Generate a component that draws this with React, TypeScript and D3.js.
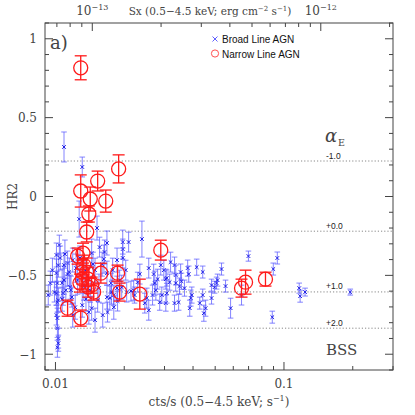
import * as d3 from 'd3';

const W = 415,
  H = 415;
const MARGIN = { top: 23, right: 22, bottom: 45, left: 45 };

// [cts/s, HR2, error]
const narrowLineAgn: [number, number, number][] = [
  [0.0129, 0.816, 0.076], [0.0189, 0.175, 0.089], [0.0153, 0.098, 0.063],
  [0.0129, 0.035, 0.102], [0.0142, -0.016, 0.076], [0.0166, -0.029, 0.07],
  [0.014, -0.111, 0.051], [0.0137, -0.225, 0.063], [0.0132, -0.359, 0.063],
  [0.0125, -0.378, 0.051], [0.0131, -0.479, 0.076], [0.0137, -0.479, 0.089],
  [0.0131, -0.524, 0.063], [0.0139, -0.524, 0.076], [0.0128, -0.549, 0.057],
  [0.0139, -0.575, 0.063], [0.0144, -0.562, 0.051], [0.0158, -0.486, 0.063],
  [0.0187, -0.486, 0.051], [0.0191, -0.606, 0.057], [0.0234, -0.619, 0.095],
  [0.0113, -0.708, 0.051], [0.0129, -0.771, 0.051], [0.0289, -0.34, 0.063],
  [0.0652, -0.581, 0.057], [0.0679, -0.543, 0.076], [0.083, -0.524, 0.044],
  [0.0133, -0.435, 0.063], [0.0147, -0.606, 0.051],
];

const broadLineAgn: [number, number, number][] = [
  [0.0109, 0.314, 0.095], [0.0131, 0.187, 0.063], [0.0127, -0.143, 0.114],
  [0.0152, -0.2, 0.076], [0.0104, -0.308, 0.063], [0.0101, -0.371, 0.076],
  [0.0101, -0.486, 0.089], [0.0102, -0.549, 0.076], [0.0101, -0.613, 0.076],
  [0.0102, -0.67, 0.063], [0.0101, -0.752, 0.063], [0.0102, -0.835, 0.076],
  [0.0103, -0.898, 0.063], [0.0102, -0.956, 0.063], [0.0103, -0.93, 0.051],
  [0.0103, -0.435, 0.076], [0.0107, -0.549, 0.089], [0.0108, -0.613, 0.076],
  [0.0099, -0.606, 0.063], [0.0103, -0.657, 0.076], [0.0102, -0.771, 0.063],
  [0.0095, -0.549, 0.076], [0.0097, -0.467, 0.076], [0.0093, -0.625, 0.063],
  [0.0107, -0.651, 0.076], [0.0109, -0.53, 0.089], [0.0109, -0.435, 0.076],
  [0.011, -0.365, 0.089], [0.0113, -0.422, 0.076], [0.0113, -0.492, 0.076],
  [0.0115, -0.479, 0.089], [0.0116, -0.575, 0.076], [0.0117, -0.594, 0.089],
  [0.0118, -0.638, 0.063], [0.0119, -0.403, 0.076], [0.0119, -0.752, 0.076],
  [0.0122, -0.702, 0.076], [0.0123, -0.454, 0.089], [0.0128, -0.39, 0.076],
  [0.0133, -0.568, 0.089], [0.0136, -0.651, 0.076], [0.014, -0.733, 0.076],
  [0.0144, -0.708, 0.076], [0.0144, -0.359, 0.089], [0.0146, -0.429, 0.076],
  [0.0149, -0.467, 0.076], [0.0149, -0.784, 0.076], [0.0155, -0.581, 0.089],
  [0.016, -0.429, 0.076], [0.0163, -0.397, 0.089], [0.0164, -0.352, 0.076],
  [0.0168, -0.486, 0.076], [0.0168, -0.638, 0.076], [0.0161, -0.752, 0.076],
  [0.0169, -0.733, 0.063], [0.0173, -0.644, 0.076], [0.0175, -0.549, 0.063],
  [0.0176, -0.606, 0.076], [0.018, -0.625, 0.063], [0.018, -0.702, 0.076],
  [0.0186, -0.581, 0.076], [0.0186, -0.403, 0.076], [0.0187, -0.663, 0.063],
  [0.0195, -0.575, 0.076], [0.0197, -0.289, 0.076], [0.0197, -0.333, 0.063],
  [0.0197, -0.39, 0.063], [0.0203, -0.467, 0.063], [0.0205, -0.606, 0.063],
  [0.0209, -0.289, 0.063], [0.0214, -0.6, 0.063], [0.022, -0.594, 0.063],
  [0.0222, -0.625, 0.051], [0.0234, -0.492, 0.063], [0.0239, -0.27, 0.114],
  [0.0246, -0.676, 0.063], [0.0251, -0.644, 0.063], [0.0256, -0.454, 0.063],
  [0.0256, -0.721, 0.063], [0.0266, -0.625, 0.063], [0.0269, -0.492, 0.063],
  [0.0272, -0.549, 0.076], [0.0275, -0.594, 0.063], [0.028, -0.524, 0.063],
  [0.0289, -0.435, 0.063], [0.0292, -0.625, 0.051], [0.0298, -0.467, 0.063],
  [0.0304, -0.524, 0.063], [0.0304, -0.676, 0.051], [0.0307, -0.517, 0.051],
  [0.0307, -0.613, 0.063], [0.0316, -0.543, 0.051], [0.0319, -0.416, 0.063],
  [0.0332, -0.435, 0.051], [0.0332, -0.676, 0.051], [0.0336, -0.498, 0.063],
  [0.0336, -0.549, 0.051], [0.0346, -0.67, 0.051], [0.0349, -0.568, 0.051],
  [0.0353, -0.479, 0.051], [0.0356, -0.537, 0.051], [0.0367, -0.581, 0.051],
  [0.0379, -0.454, 0.051], [0.0383, -0.492, 0.051], [0.0387, -0.708, 0.051],
  [0.0391, -0.644, 0.051], [0.0395, -0.625, 0.051], [0.0415, -0.448, 0.051],
  [0.0428, -0.676, 0.038], [0.0441, -0.479, 0.038], [0.0441, -0.625, 0.038],
  [0.0446, -0.74, 0.051], [0.0454, -0.708, 0.051], [0.0482, -0.562, 0.038],
  [0.0482, -0.644, 0.038], [0.0497, -0.575, 0.038], [0.0507, -0.549, 0.038],
  [0.0512, -0.53, 0.038], [0.0533, -0.46, 0.038], [0.0555, -0.568, 0.038],
  [0.0584, -0.708, 0.063], [0.0652, -0.625, 0.063], [0.0699, -0.378, 0.032],
  [0.0898, -0.46, 0.038], [0.0935, -0.39, 0.038], [0.0889, -0.765, 0.038],
  [0.1166, -0.581, 0.032], [0.1177, -0.632, 0.038], [0.1237, -0.606, 0.025],
  [0.195, -0.606, 0.019], [0.0168, -0.295, 0.076], [0.0156, -0.321, 0.063],
  [0.0105, -0.39, 0.076], [0.0111, -0.594, 0.076], [0.0125, -0.53, 0.089],
  [0.0135, -0.467, 0.076], [0.0142, -0.594, 0.076], [0.0153, -0.657, 0.076],
  [0.0131, -0.689, 0.076], [0.0178, -0.467, 0.076], [0.0191, -0.53, 0.063],
  [0.0229, -0.543, 0.063], [0.0286, -0.67, 0.051],
];

// alpha_E reference levels
const alphaLabels = ['-1.0', '+0.0', '+1.0', '+2.0'];
const alphaHr2 = [0.225, -0.22, -0.605, -0.835];

const yTickLabels = ['1', '0.5', '0', '\u22120.5', '\u22121'];
const yTickValues = [1, 0.5, 0, -0.5, -1];
const xTickValues = [0.01, 0.1];
const xTickLabels = ['0.01', '0.1'];

const FLUX_PER_CTS = 6.9e-12;

const SERIF = '"DejaVu Serif", serif';
const SANS = '"Liberation Sans", Arial, sans-serif';
const AXIS = '#444';

export default function App() {
  const x0 = MARGIN.left,
    x1 = W - MARGIN.right,
    y0 = MARGIN.top,
    y1 = H - MARGIN.bottom;

  const xScale = d3.scaleLog().domain([0.009, 0.3]).range([x0, x1]);
  const fluxScale = d3
    .scaleLog()
    .domain([0.009 * FLUX_PER_CTS, 0.3 * FLUX_PER_CTS])
    .range([x0, x1]);
  const yScale = d3.scaleLinear().domain([-1.1, 1.1]).range([y1, y0]);

  const isPow10 = (v: number) => Math.abs(Math.log10(v) - Math.round(Math.log10(v))) < 1e-6;

  const yMinor = d3.range(-11, 12).map(i => i / 10);

  const yTicksEls = yMinor.map((v, i) => {
    const major = Math.abs(v * 2 - Math.round(v * 2)) < 1e-6;
    const len = major ? 8 : 4;
    const yy = yScale(v);
    return (
      <g key={'yt' + i} stroke={AXIS} strokeWidth={1}>
        <line x1={x0} x2={x0 + len} y1={yy} y2={yy} />
        <line x1={x1} x2={x1 - len} y1={yy} y2={yy} />
      </g>
    );
  });

  const xTicksEls = xScale
    .ticks()
    .filter(v => v >= 0.009 && v <= 0.3)
    .map((v, i) => {
      const len = isPow10(v) ? 8 : 4;
      const xx = xScale(v);
      return <line key={'xt' + i} x1={xx} x2={xx} y1={y1} y2={y1 - len} stroke={AXIS} />;
    });

  const fluxTicksEls = fluxScale
    .ticks()
    .filter(v => fluxScale(v) >= x0 && fluxScale(v) <= x1)
    .map((v, i) => {
      const len = isPow10(v) ? 8 : 4;
      const xx = fluxScale(v);
      return <line key={'ft' + i} x1={xx} x2={xx} y1={y0} y2={y0 + len} stroke={AXIS} />;
    });

  const blueBars = broadLineAgn.map((d, i) => {
    const xx = xScale(d[0]);
    const yy = yScale(d[1]);
    const ya = yScale(d[1] + d[2]);
    const yb = yScale(d[1] - d[2]);
    return (
      <g key={'bl' + i}>
        <g stroke="#5c5cff" strokeOpacity={0.75} strokeWidth={1}>
          <line x1={xx} x2={xx} y1={ya} y2={yb} />
          <line x1={xx - 2.8} x2={xx + 2.8} y1={ya} y2={ya} />
          <line x1={xx - 2.8} x2={xx + 2.8} y1={yb} y2={yb} />
        </g>
        <path
          d={`M${xx - 1.8},${yy - 1.8}L${xx + 1.8},${yy + 1.8}M${xx - 1.8},${yy + 1.8}L${xx + 1.8},${yy - 1.8}`}
          stroke="#1a1ae6"
          strokeWidth={1}
        />
      </g>
    );
  });

  const redMarks = narrowLineAgn.map((d, i) => {
    const xx = xScale(d[0]);
    const yy = yScale(d[1]);
    const ya = yScale(d[1] + d[2]);
    const yb = yScale(d[1] - d[2]);
    return (
      <g key={'nl' + i} stroke="#ff1a1a" fill="none" strokeWidth={1.3}>
        <line x1={xx} x2={xx} y1={ya} y2={yb} />
        <line x1={xx - 6} x2={xx + 6} y1={ya} y2={ya} />
        <line x1={xx - 6} x2={xx + 6} y1={yb} y2={yb} />
        <circle cx={xx} cy={yy} r={7} />
      </g>
    );
  });

  const alphaEls = alphaHr2.map((v, i) => {
    const yy = yScale(v);
    return (
      <g key={'al' + i}>
        <line x1={x0} x2={x1} y1={yy} y2={yy} stroke="#888" strokeDasharray="1.2,2" />
        <text x={326} y={yy - 2.5} fontFamily={SANS} fontSize={8.5} fill="#222">
          {alphaLabels[i]}
        </text>
      </g>
    );
  });

  return (
    <svg width={W} height={H} style={{ position: 'absolute', left: 0, top: 0, background: '#fff' }}>
      <rect width={W} height={H} fill="#fff" />
      {alphaEls}
      {blueBars}
      {redMarks}

      <rect x={x0} y={y0} width={x1 - x0} height={y1 - y0} fill="none" stroke={AXIS} strokeWidth={1} />
      {yTicksEls}
      {xTicksEls}
      {fluxTicksEls}

      {yTickValues.map((v, i) => (
        <text key={'yl' + i} x={37} y={yScale(v) + 4.5} textAnchor="end" fontFamily={SERIF} fontSize={12} fill={AXIS}>
          {yTickLabels[i]}
        </text>
      ))}
      {xTickValues.map((v, i) => (
        <text key={'xl' + i} x={xScale(v)} y={388} textAnchor="middle" fontFamily={SERIF} fontSize={12} fill={AXIS}>
          {xTickLabels[i]}
        </text>
      ))}

      <text x={219} y={406} textAnchor="middle" fontFamily={SERIF} fontSize={12} fill={AXIS}>
        cts/s (0.5{'\u2212'}4.5 keV; s
        <tspan dy={-5} fontSize={8}>{'\u22121'}</tspan>
        <tspan dy={5}>)</tspan>
      </text>
      <text transform={`translate(17,${yScale(0)}) rotate(-90)`} textAnchor="middle" fontFamily={SERIF} fontSize={12} fill={AXIS}>
        HR2
      </text>

      <text x={fluxScale(1e-13)} y={15} textAnchor="middle" fontFamily={SERIF} fontSize={12} fill={AXIS}>
        10<tspan dy={-5} fontSize={8}>{'\u221213'}</tspan>
      </text>
      <text x={fluxScale(1e-12)} y={15} textAnchor="middle" fontFamily={SERIF} fontSize={12} fill={AXIS}>
        10<tspan dy={-5} fontSize={8}>{'\u221212'}</tspan>
      </text>
      <text x={210} y={15} textAnchor="middle" fontFamily={SERIF} fontSize={10.5} fill={AXIS}>
        Sx (0.5{'\u2212'}4.5 keV; erg cm<tspan dy={-4} fontSize={7}>{'\u22122'}</tspan>
        <tspan dy={4}> s</tspan>
        <tspan dy={-4} fontSize={7}>{'\u22121'}</tspan>
        <tspan dy={4}>)</tspan>
      </text>

      <text x={50} y={49} fontFamily={SERIF} fontSize={18} fill={AXIS}>a)</text>

      <path d="M212.5,36.5L217.5,41.5M212.5,41.5L217.5,36.5" stroke="#6060ff" strokeWidth={1} />
      <text x={222} y={43} fontFamily={SANS} fontSize={10} fill="#111">Broad Line AGN</text>
      <circle cx={215} cy={53.5} r={3.6} fill="none" stroke="#ff5050" strokeWidth={1} />
      <text x={222} y={57.5} fontFamily={SANS} fontSize={10} fill="#111">Narrow Line AGN</text>

      <text x={325} y={142} fontFamily={SERIF} fontStyle="italic" fontSize={18} fill={AXIS}>{'\u03b1'}</text>
      <text x={338} y={146} fontFamily={SERIF} fontSize={9.5} fill={AXIS}>E</text>

      <text x={326} y={355} fontFamily={SERIF} fontSize={15} fill={AXIS}>BSS</text>
    </svg>
  );
}
